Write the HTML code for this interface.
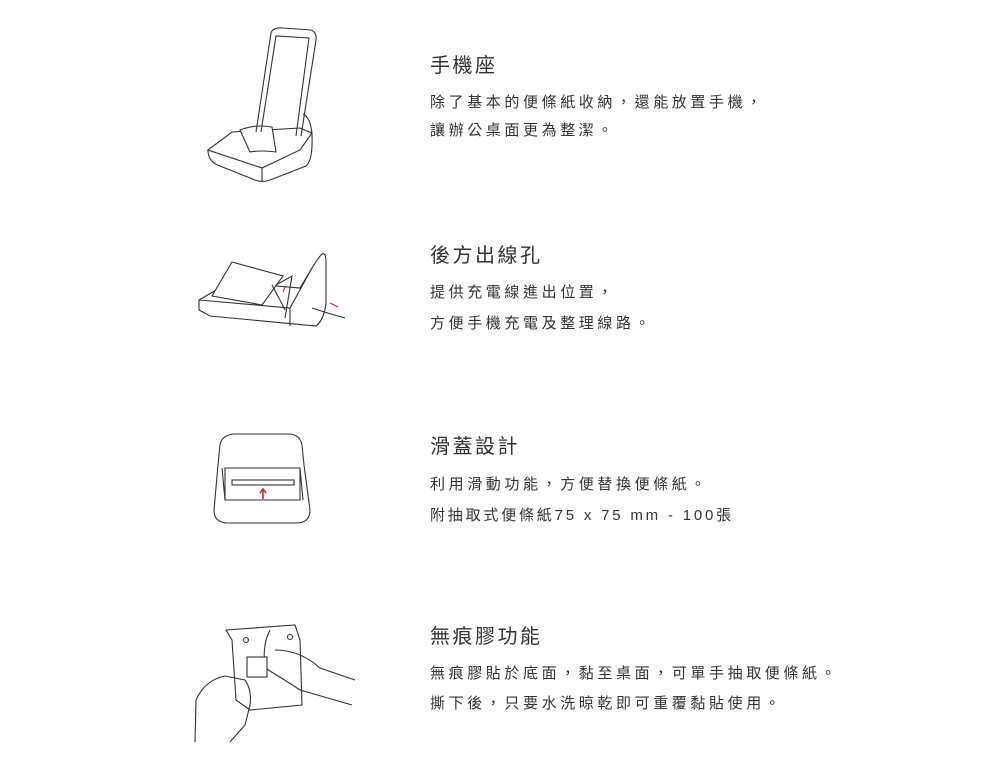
<!DOCTYPE html>
<html><head><meta charset="utf-8"><style>
body{margin:0;width:1000px;height:775px;background:#fff;position:relative;overflow:hidden;font-family:"Liberation Sans","Noto Sans CJK TC",sans-serif;color:#333}
.t{position:absolute;left:430px;font-size:20px;letter-spacing:2.5px;line-height:24px;font-weight:400}
.b{position:absolute;left:430px;font-size:15px;letter-spacing:3.6px;line-height:20px;font-weight:400;white-space:nowrap}
.l{letter-spacing:2.8px}
svg{position:absolute;left:0;top:0}
</style></head><body>
<svg width="1000" height="775" fill="none" stroke="#333" stroke-width="1.1">
<!-- phone stand -->
<path d="M208 150 L232 132 L300 128 L312 133 L300 150 L262 168 Z" fill="#fff"/>
<path d="M208 150 Q208 162 220 166 L255 180 Q262 183 270 180 L306 166 Q313 160 312 135 Q311 118 303 114"/>
<path d="M262 168 L262 182"/>
<path d="M240 130 Q255 124 272 127 L276 152 Q262 150 250 152 Z" fill="#fff"/>
<path d="M256 132 L271 33 Q273 27 283 28 L311 30 Q317 32 316 40 L301 136"/>
<path d="M261 132 L276 36 L309 38 L296 136"/>
<!-- cable hole -->
<path d="M199 300 L230 282 L300 288 L312 268 Q318 258 322 254 Q326 252 326 262 L326 303 Q324 320 316 326 L210 316 L199 310 Z" fill="#fff"/>
<path d="M199 300 L290 308 L312 268"/>
<path d="M290 308 L290 326"/>
<path d="M212 296 L232 262 L283 276 L262 305 Z" fill="#fff"/>
<path d="M272 285 Q280 300 285 310 M276 285 L292 276 L285 318"/>
<path d="M312 308 Q330 314 345 318"/>
<path d="M330 303 L338 307" stroke="#d22"/>
<path d="M283 292 L285 287" stroke="#d22"/>
<!-- slide -->
<path d="M218 465 L220 445 Q222 434 236 434 L288 434 Q300 434 302 445 L304 465 L310 510 Q310 522 298 523 L228 523 Q214 523 214 510 Z" fill="#fff"/>
<path d="M225 468 L300 468 L300 500 L225 500 Z M222 468 L225 500 M300 468 L303 500"/>
<rect x="232" y="480" width="62" height="5"/>
<path d="M263 499 L263 490 M260 493 L263 489 L266 493" stroke="#d22" stroke-width="1.6"/>
<!-- hands -->
<path d="M226 630 L295 625 L300 640 L302 705 L250 710 L236 700 L232 640 Z"/>
<circle cx="246" cy="640" r="2.5"/><circle cx="290" cy="637" r="2.5"/>
<path d="M270 630 Q262 645 265 668 Q285 680 300 690 L352 705 M275 650 Q300 650 320 668 L355 680"/>
<path d="M195 742 L196 700 Q205 680 225 676 L245 680 Q252 690 250 705 L245 725 L230 742"/>
<rect x="247" y="657" width="20" height="20" fill="#fff"/>
</svg>
<div class="t" style="top:54px">手機座</div>
<div class="b" style="top:93px">除了基本的便條紙收納，還能放置手機，</div>
<div class="b" style="top:121px">讓辦公桌面更為整潔。</div>
<div class="t" style="top:244px">後方出線孔</div>
<div class="b" style="top:283px">提供充電線進出位置，</div>
<div class="b" style="top:314px">方便手機充電及整理線路。</div>
<div class="t" style="top:435px">滑蓋設計</div>
<div class="b" style="top:475px">利用滑動功能，方便替換便條紙。</div>
<div class="b l" style="top:506px">附抽取式便條紙75 x 75 mm - 100張</div>
<div class="t" style="top:625px">無痕膠功能</div>
<div class="b" style="top:664px">無痕膠貼於底面，黏至桌面，可單手抽取便條紙。</div>
<div class="b" style="top:694px">撕下後，只要水洗晾乾即可重覆黏貼使用。</div>
</body></html>
